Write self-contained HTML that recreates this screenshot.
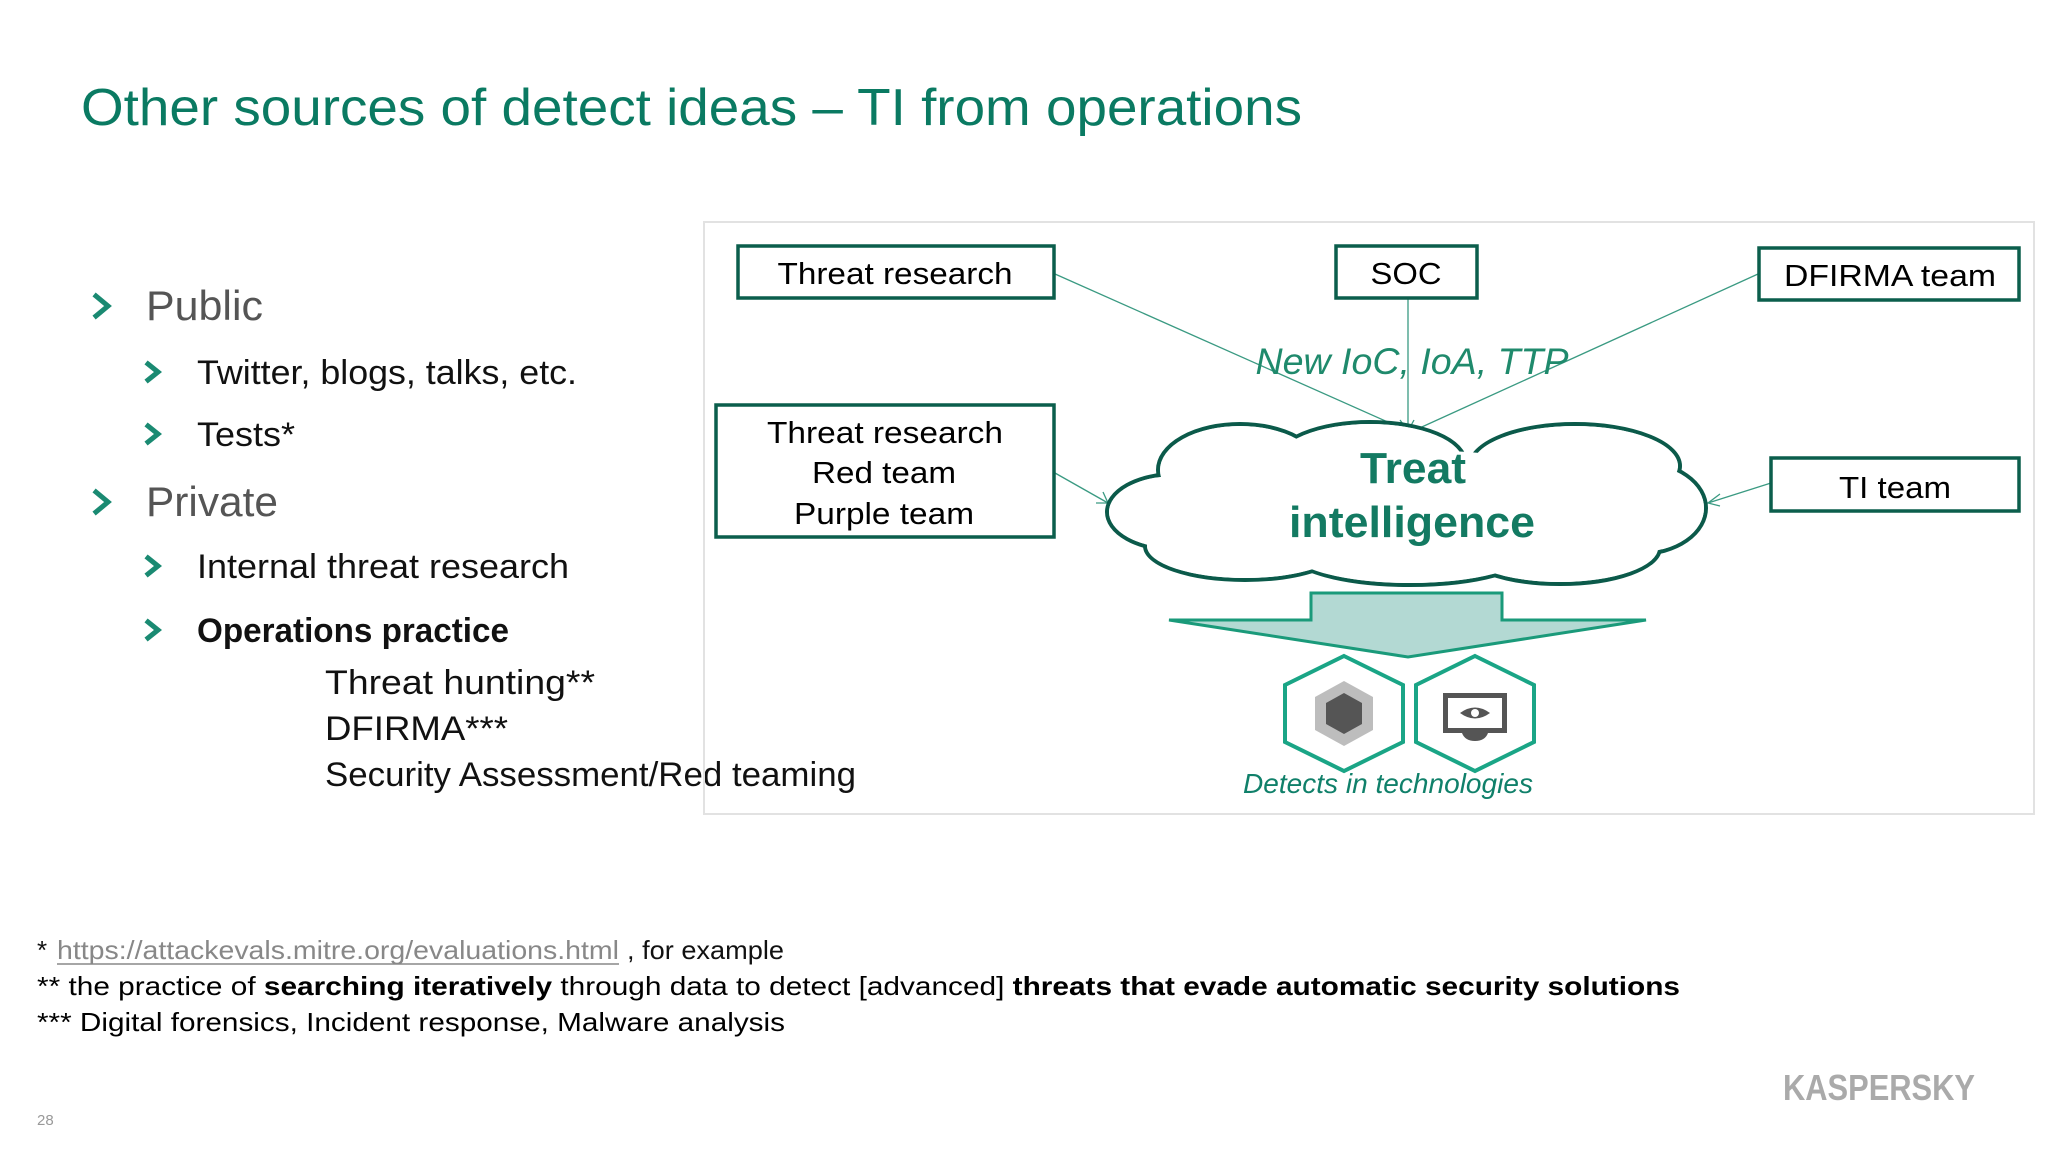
<!DOCTYPE html>
<html><head><meta charset="utf-8"><style>
html,body{margin:0;padding:0;background:#fff;}
svg{display:block;}
</style></head><body>
<svg width="2048" height="1152" viewBox="0 0 2048 1152" xmlns="http://www.w3.org/2000/svg" font-family="Liberation Sans, sans-serif">
<rect width="2048" height="1152" fill="#fff"/>
<text x="81" y="125" font-size="52" fill="#0a7a62" textLength="1221" lengthAdjust="spacingAndGlyphs">Other sources of detect ideas – TI from operations</text>

<g fill="none" stroke="#1a8a72" stroke-width="5" stroke-linecap="square">
<polyline points="96,296 108,306 96,316"/>
<polyline points="96,492 108,502 96,512"/>
<polyline points="148,364 158,372 148,380"/>
<polyline points="148,426 158,434 148,442"/>
<polyline points="148,558 158,566 148,574"/>
<polyline points="148,622 158,630 148,638"/>
</g>
<text x="146" y="320" font-size="42" fill="#555" textLength="117" lengthAdjust="spacingAndGlyphs">Public</text>
<text x="146" y="516" font-size="42" fill="#555" textLength="132" lengthAdjust="spacingAndGlyphs">Private</text>
<g fill="#111" font-size="34">
<text x="197" y="384" textLength="380" lengthAdjust="spacingAndGlyphs">Twitter, blogs, talks, etc.</text>
<text x="197" y="446" textLength="98" lengthAdjust="spacingAndGlyphs">Tests*</text>
<text x="197" y="578" textLength="372" lengthAdjust="spacingAndGlyphs">Internal threat research</text>
<text x="197" y="642" font-weight="bold" textLength="312" lengthAdjust="spacingAndGlyphs">Operations practice</text>
<text x="325" y="694" textLength="270" lengthAdjust="spacingAndGlyphs">Threat hunting**</text>
<text x="325" y="740" textLength="183" lengthAdjust="spacingAndGlyphs">DFIRMA***</text>
<text x="325" y="786" textLength="531" lengthAdjust="spacingAndGlyphs">Security Assessment/Red teaming</text>
</g>

<rect x="704" y="222" width="1330" height="592" fill="none" stroke="#e2e2e2" stroke-width="2"/>

<g stroke="#3a9a82" stroke-width="1.3" fill="none">
<line x1="1055" y1="274" x2="1408" y2="431"/>
<line x1="1408" y1="298" x2="1408" y2="431"/>
<line x1="1758" y1="274" x2="1413" y2="431"/>
<line x1="1055" y1="473" x2="1108" y2="503"/>
<line x1="1771" y1="483" x2="1708" y2="503"/>
<polyline points="1400,420 1408,431 1414,420"/>
<polyline points="1096,503 1108,503 1103,492"/>
<polyline points="1720,494 1708,503 1720,506"/>
</g>

<g fill="#fff" stroke="#0b5e4c" stroke-width="3.5">
<rect x="738" y="246" width="316" height="52"/>
<rect x="1336" y="246" width="141" height="52"/>
<rect x="1759" y="248" width="260" height="52"/>
<rect x="716" y="405" width="338" height="132"/>
<rect x="1771" y="458" width="248" height="53"/>
</g>
<g fill="#000" font-size="31" text-anchor="middle">
<text x="895" y="284" textLength="235" lengthAdjust="spacingAndGlyphs">Threat research</text>
<text x="1406" y="284" textLength="71" lengthAdjust="spacingAndGlyphs">SOC</text>
<text x="1890" y="286" textLength="212" lengthAdjust="spacingAndGlyphs">DFIRMA team</text>
<text x="885" y="443" textLength="236" lengthAdjust="spacingAndGlyphs">Threat research</text>
<text x="884" y="483" textLength="144" lengthAdjust="spacingAndGlyphs">Red team</text>
<text x="884" y="524" textLength="180" lengthAdjust="spacingAndGlyphs">Purple team</text>
<text x="1895" y="498" textLength="112" lengthAdjust="spacingAndGlyphs">TI team</text>
</g>

<text x="1412" y="374" font-size="37" font-style="italic" fill="#1f8a6c" text-anchor="middle" textLength="313" lengthAdjust="spacingAndGlyphs">New IoC, IoA, TTP</text>

<!-- cloud -->
<g stroke="#0b5a4a" stroke-width="4" fill="#fff">
<ellipse cx="1175" cy="512" rx="68" ry="38"/>
<ellipse cx="1240" cy="470" rx="82" ry="46"/>
<ellipse cx="1370" cy="462" rx="95" ry="40"/>
<ellipse cx="1575" cy="466" rx="105" ry="42"/>
<ellipse cx="1640" cy="508" rx="66" ry="46"/>
<ellipse cx="1560" cy="548" rx="100" ry="36"/>
<ellipse cx="1410" cy="552" rx="120" ry="33"/>
<ellipse cx="1245" cy="546" rx="100" ry="34"/>
</g>
<g fill="#fff">
<ellipse cx="1175" cy="512" rx="66" ry="36"/>
<ellipse cx="1240" cy="470" rx="80" ry="44"/>
<ellipse cx="1370" cy="462" rx="93" ry="38"/>
<ellipse cx="1575" cy="466" rx="103" ry="40"/>
<ellipse cx="1640" cy="508" rx="64" ry="44"/>
<ellipse cx="1560" cy="548" rx="98" ry="34"/>
<ellipse cx="1410" cy="552" rx="118" ry="31"/>
<ellipse cx="1245" cy="546" rx="98" ry="32"/>
<ellipse cx="1410" cy="508" rx="220" ry="58"/>
</g>
<g fill="#137a62" font-weight="bold" font-size="44" text-anchor="middle">
<text x="1413" y="483" textLength="106" lengthAdjust="spacingAndGlyphs">Treat</text>
<text x="1412" y="537" textLength="246" lengthAdjust="spacingAndGlyphs">intelligence</text>
</g>

<polygon points="1311,593 1502,593 1502,620 1646,620 1408,657 1169,620 1311,620" fill="#b3d9d3" stroke="#1a9a7a" stroke-width="3"/>

<g fill="#fff" stroke="#1aa586" stroke-width="4">
<polygon points="1344,656 1403,685 1403,742 1344,771 1285,742 1285,685"/>
<polygon points="1475,656 1534,685 1534,742 1475,771 1416,742 1416,685"/>
</g>
<polygon points="1344,681 1373,697 1373,730 1344,746 1315,730 1315,697" fill="#bdbdbd"/>
<polygon points="1344,693 1362,703 1362,724 1344,734 1326,724 1326,703" fill="#555"/>
<rect x="1443" y="693" width="64" height="40" fill="#555"/>
<rect x="1448" y="698" width="54" height="30" fill="#fff"/>
<path d="M1460 713 Q1475 702 1490 713 Q1475 724 1460 713Z" fill="#555"/>
<circle cx="1475" cy="713" r="4" fill="#fff"/>
<path d="M1462 733 H1488 Q1485 741 1475 741 Q1465 741 1462 733Z" fill="#555"/>

<text x="1388" y="793" font-size="28" font-style="italic" fill="#10806a" text-anchor="middle" textLength="290" lengthAdjust="spacingAndGlyphs">Detects in technologies</text>

<g font-size="26">
<text x="37" y="959" fill="#111">*</text>
<text x="57" y="959" fill="#888" textLength="562" lengthAdjust="spacingAndGlyphs">https://attackevals.mitre.org/evaluations.html</text>
<line x1="57" y1="964" x2="619" y2="964" stroke="#888" stroke-width="1.5"/>
<text x="627" y="959" fill="#111" textLength="157" lengthAdjust="spacingAndGlyphs">, for example</text>
<text x="37" y="995" fill="#000" textLength="1643" lengthAdjust="spacingAndGlyphs">** the practice of <tspan font-weight="bold">searching iteratively</tspan> through data to detect [advanced] <tspan font-weight="bold">threats that evade automatic security solutions</tspan></text>
<text x="37" y="1031" fill="#000" textLength="748" lengthAdjust="spacingAndGlyphs">*** Digital forensics, Incident response, Malware analysis</text>
</g>
<text x="37" y="1125" font-size="15" fill="#999">28</text>
<text x="1783" y="1100" font-size="36" fill="#aaa" font-weight="bold" textLength="192" lengthAdjust="spacingAndGlyphs">KASPERSKY</text>
</svg>
</body></html>
